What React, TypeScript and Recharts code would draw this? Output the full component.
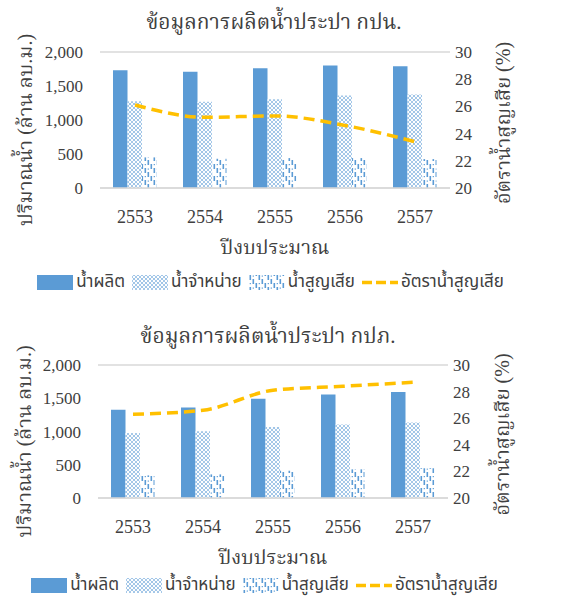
import React from 'react';
import { ComposedChart, Bar, Line, XAxis, YAxis, CartesianGrid } from 'recharts';

const years = ['2553', '2554', '2555', '2556', '2557'];

// กปน.
const mwaProduced = [1730, 1710, 1760, 1800, 1790];
const mwaSold = [1275, 1270, 1305, 1360, 1375];
const mwaLost = [450, 430, 440, 440, 425];
const mwaLossRate = [26.1, 25.2, 25.3, 24.6, 23.4];

// กปภ.
const pwaProduced = [1328, 1362, 1494, 1555, 1595];
const pwaSold = [978, 1003, 1069, 1104, 1135];
const pwaLost = [340, 355, 410, 431, 447];
const pwaLossRate = [26.3, 26.6, 28.1, 28.4, 28.7];

const volumeTicks = [0, 500, 1000, 1500, 2000];
const rateTicks = [20, 22, 24, 26, 28, 30];

const BLUE = '#5B9BD5';
const GOLD = '#FFC000';
const GRID = '#D9D9D9';
const SERIF = '"Liberation Serif", "Noto Serif Thai", "Noto Sans Thai", serif';
const SANS = '"Noto Sans Thai", "Noto Sans", "DejaVu Sans", sans-serif';

const Patterns = ({ id }: { id: string }) => (
    <defs>
        <pattern id={`sold-${id}`} width={4} height={4} patternUnits="userSpaceOnUse">
            <rect width={4} height={4} fill="#fff" />
            <path d="M0,2 Q1,0.6 2,0 Q3,0.6 4,2 Q3,3.4 2,4 Q1,3.4 0,2 Z" fill="none" stroke={BLUE} strokeWidth={0.6} />
        </pattern>
        <pattern id={`lost-${id}`} width={9} height={12} patternUnits="userSpaceOnUse">
            <rect width={9} height={12} fill="#fff" />
            <rect x={0.5} y={0} width={1.6} height={5} fill={BLUE} />
            <rect x={3.5} y={4} width={1.6} height={5} fill={BLUE} />
            <rect x={6.5} y={8} width={1.6} height={5} fill={BLUE} />
            <rect x={6.5} y={-4} width={1.6} height={5} fill={BLUE} />
            <rect x={0.7} y={8} width={1.2} height={1.2} fill={BLUE} />
            <rect x={3.7} y={0.5} width={1.2} height={1.2} fill={BLUE} />
        </pattern>
    </defs>
);

const Swatch = ({ kind, id }: { kind: string; id: string }) => (
    <svg width={36} height={15} style={{ display: 'block' }}>
        <Patterns id={id} />
        {kind === 'produced' && <rect width={36} height={15} fill={BLUE} />}
        {kind === 'sold' && <rect width={36} height={15} fill={`url(#sold-${id})`} />}
        {kind === 'lost' && <rect width={36} height={15} fill={`url(#lost-${id})`} />}
        {kind === 'rate' && (
            <line x1={0} x2={36} y1={7.5} y2={7.5} stroke={GOLD} strokeWidth={3.5} strokeDasharray="10 4" />
        )}
    </svg>
);

const legendItems = [
    { kind: 'produced', label: 'น้ำผลิต' },
    { kind: 'sold', label: 'น้ำจำหน่าย' },
    { kind: 'lost', label: 'น้ำสูญเสีย' },
    { kind: 'rate', label: 'อัตราน้ำสูญเสีย' },
];

interface PanelProps {
    id: string;
    title: string;
    top: number;
    height: number;
    plotTop: number;
    plotBottom: number;
    plotLeft: number;
    plotRight: number;
    titleY: number;
    legendY: number;
    centerX: number;
    produced: number[];
    sold: number[];
    lost: number[];
    rate: number[];
}

const Panel: React.FC<PanelProps> = (p) => {
    const data = years.map((year, i) => ({
        year,
        produced: p.produced[i],
        sold: p.sold[i],
        lost: p.lost[i],
        rate: p.rate[i],
    }));
    const xAxisHeight = 70;
    const width = 581;

    return (
        <div style={{ position: 'absolute', left: 0, top: p.top, width, height: p.height }}>
            <ComposedChart
                width={width}
                height={p.height}
                data={data}
                margin={{ top: p.plotTop, left: 0, right: 0, bottom: p.height - p.plotBottom - xAxisHeight }}
                barGap={0}
            >
                <Patterns id={p.id} />
                <CartesianGrid vertical={false} stroke={GRID} strokeWidth={1.5} />
                <XAxis
                    dataKey="year"
                    height={xAxisHeight}
                    tickSize={0}
                    tickMargin={22}
                    axisLine={{ stroke: GRID, strokeWidth: 1.5 }}
                    tick={{ fill: '#404040', fontSize: 18, fontFamily: SERIF }}
                    label={{
                        value: 'ปีงบประมาณ',
                        position: 'insideBottom',
                        offset: 4,
                        fill: '#404040',
                        fontSize: 20,
                        fontFamily: SERIF,
                    }}
                />
                <YAxis
                    yAxisId="left"
                    width={p.plotLeft}
                    domain={[0, 2000]}
                    ticks={volumeTicks}
                    tickFormatter={(v: number) => v.toLocaleString('en-US')}
                    axisLine={false}
                    tickLine={false}
                    tickSize={0}
                    tickMargin={17}
                    tick={{ fill: '#404040', fontSize: 17, fontFamily: SERIF }}
                    label={{
                        value: 'ปริมาณน้ำ (ล้าน ลบ.ม.)',
                        angle: -90,
                        position: 'center',
                        dx: -25,
                        dy: 10,
                        fill: '#404040',
                        fontSize: 20,
                        fontFamily: SERIF,
                    }}
                />
                <YAxis
                    yAxisId="right"
                    orientation="right"
                    width={width - p.plotRight}
                    domain={[20, 30]}
                    ticks={rateTicks}
                    axisLine={false}
                    tickLine={false}
                    tickSize={0}
                    tickMargin={5}
                    tick={{ fill: '#404040', fontSize: 17, fontFamily: SERIF }}
                    label={{
                        value: 'อัตราน้ำสูญเสีย (%)',
                        angle: -90,
                        position: 'center',
                        dx: -13,
                        dy: 3,
                        fill: '#404040',
                        fontSize: 20,
                        fontFamily: SERIF,
                    }}
                />
                <Bar yAxisId="left" dataKey="produced" name="น้ำผลิต" fill={BLUE} barSize={14.5} isAnimationActive={false} />
                <Bar yAxisId="left" dataKey="sold" name="น้ำจำหน่าย" fill={`url(#sold-${p.id})`} barSize={14.5} isAnimationActive={false} />
                <Bar yAxisId="left" dataKey="lost" name="น้ำสูญเสีย" fill={`url(#lost-${p.id})`} barSize={14.5} isAnimationActive={false} />
                <Line
                    yAxisId="right"
                    type="monotone"
                    dataKey="rate"
                    name="อัตราน้ำสูญเสีย"
                    stroke={GOLD}
                    strokeWidth={3.5}
                    strokeDasharray="11 6"
                    dot={false}
                    activeDot={false}
                    isAnimationActive={false}
                />
            </ComposedChart>
            <div
                style={{
                    position: 'absolute',
                    left: p.centerX - 200,
                    width: 400,
                    top: p.titleY - 14,
                    textAlign: 'center',
                    fontFamily: SERIF,
                    fontSize: 21,
                    lineHeight: '28px',
                    color: '#404040',
                }}
            >
                {p.title}
            </div>
            <div
                style={{
                    position: 'absolute',
                    left: p.centerX - 290,
                    width: 580,
                    top: p.legendY - 12,
                    height: 24,
                    display: 'flex',
                    justifyContent: 'center',
                    alignItems: 'center',
                    fontFamily: SANS,
                    fontSize: 17,
                    color: '#404040',
                }}
            >
                {legendItems.map((item) => (
                    <div key={item.kind} style={{ display: 'flex', alignItems: 'center', marginRight: 7 }}>
                        <Swatch kind={item.kind} id={`${p.id}-${item.kind}`} />
                        <span style={{ marginLeft: 3 }}>{item.label}</span>
                    </div>
                ))}
            </div>
        </div>
    );
};

export default function App() {
    return (
        <div style={{ position: 'absolute', left: 0, top: 0, width: 581, height: 597, background: '#fff' }}>
            <Panel
                id="mwa"
                title="ข้อมูลการผลิตน้ำประปา กปน."
                top={0}
                height={300}
                plotTop={52}
                plotBottom={188}
                plotLeft={100}
                plotRight={450}
                titleY={22}
                legendY={282}
                centerX={274}
                produced={mwaProduced}
                sold={mwaSold}
                lost={mwaLost}
                rate={mwaLossRate}
            />
            <Panel
                id="pwa"
                title="ข้อมูลการผลิตน้ำประปา กปภ."
                top={300}
                height={297}
                plotTop={65}
                plotBottom={198}
                plotLeft={98}
                plotRight={448}
                titleY={36}
                legendY={285}
                centerX={268}
                produced={pwaProduced}
                sold={pwaSold}
                lost={pwaLost}
                rate={pwaLossRate}
            />
        </div>
    );
}
